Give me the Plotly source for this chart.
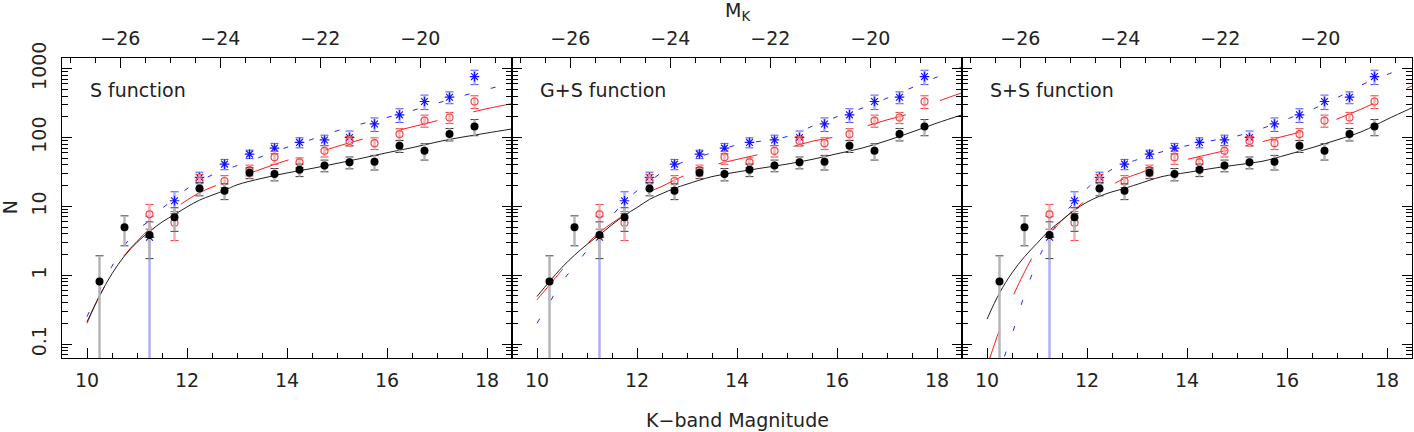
import plotly.graph_objects as go

# observed counts per 0.5 mag bin (same data in all three panels)
MAG_BINS = [10.25, 10.75, 11.25, 11.75, 12.25, 12.75, 13.25, 13.75,
            14.25, 14.75, 15.25, 15.75, 16.25, 16.75, 17.25, 17.75]
N_ALL = [0.81, 4.97, 3.84, 6.93, 18.2, 16.8, 30.7, 29.4,
         34.0, 39.3, 43.5, 44.3, 75.5, 64.0, 112, 144]
N_ALL_ERR = [1.1, 2.3, 2.1, 2.6, 4.0, 4.3, 5.5, 6.0,
             7.0, 7.6, 8.5, 10.6, 15, 17, 23, 38]

MAG_BINS_B = [11.25, 11.75, 12.25, 12.75, 13.25, 13.75, 14.25,
              14.75, 15.25, 15.75, 16.25, 16.75, 17.25, 17.75]
N_RED = [7.66, 5.78, 23.5, 23.3, 33.6, 51.8, 43.5, 64, 89, 82.6, 112, 176, 195, 333]
N_RED_ERR = [3.0, 2.6, 5.5, 4.6, 6.0, 11, 7, 12, 14, 16, 22, 35, 36, 70]
N_BLUE = [3.56, 12.05, 26.3, 41, 57.3, 70, 84.7, 92, 100, 157, 213, 333, 384, 766]
N_BLUE_ERR = [3.6, 4.2, 5, 7, 8, 12, 14, 16, 24, 35, 48, 79, 75, 180]

# model curves
MODEL_K = [10.0, 10.25, 10.5, 10.75, 11.0, 11.25, 11.5, 11.75, 12.0, 12.25, 12.5, 12.75,
           13.0, 13.5, 14.0, 14.5, 15.0, 15.5, 16.0, 16.5, 17.0, 17.5, 18.0, 18.5]

S_BLACK = [0.21, 0.5, 1.05, 1.9, 3.0, 4.3, 5.9, 7.6, 9.8, 12.3, 14.5, 17.0,
           20.5, 25.5, 30.5, 35.5, 42, 50, 60, 71, 86, 101, 116, 133]
S_RED = [0.2, 0.5, 1.05, 1.95, 3.1, 4.7, 6.6, 9.2, 12.3, 15.8, 19.0, 22.5,
         26, 35, 46.5, 57, 74, 94, 116, 142, 175, 215, 262, 310]
S_BLUE = [0.25, 0.6, 1.35, 2.7, 4.5, 6.2, 9.3, 12.8, 18.0, 23, 28.5, 34,
          39, 53, 72, 94, 125, 158, 195, 245, 314, 400, 500, 615]

GS_BLACK = [0.49, 0.81, 1.3, 1.95, 2.8, 3.85, 5.4, 7.4, 9.6, 12.6, 15.3, 18.2,
            21, 27, 31.5, 36, 41, 48, 58, 70, 90, 120, 162, 213]
GS_RED = [0.44, 0.72, 1.19, 1.85, 2.85, 4.2, 5.7, 7.6, 10.5, 16.0, 19.5, 24,
          29, 39, 48, 58, 70, 88, 104, 140, 180, 228, 330, 445]
GS_BLUE = [0.2, 0.4, 0.8, 1.35, 2.3, 4.2, 7.3, 11.5, 16.8, 23, 31, 39,
           46, 60, 78, 89, 103, 145, 200, 266, 372, 530, 755, 1050]

SS_BLACK = [0.23, 0.55, 1.08, 1.85, 2.9, 4.5, 6.3, 8.8, 11.5, 14, 16.2, 18.2,
            20.8, 27, 31, 35.5, 40, 45, 56, 71, 92, 122, 183, 270]
SS_RED = [0.047, 0.16, 0.46, 1.11, 2.35, 3.84, 6.3, 8.95, 12.6, 16.9, 20.7, 25.3,
          29.4, 39.7, 48, 58.2, 70.5, 86.7, 107, 134, 185, 261, 385, 560]
SS_BLUE = [0.012, 0.041, 0.138, 0.52, 1.54, 3.7, 7.0, 11.6, 18.2, 26, 34.5, 41,
           47.5, 62, 76, 90, 105, 135, 185, 255, 377, 583, 818, 1120]

PANEL_LABELS = ["S function", "G+S function", "S+S function"]
PANEL_MODELS = [(S_BLACK, S_RED, S_BLUE), (GS_BLACK, GS_RED, GS_BLUE), (SS_BLACK, SS_RED, SS_BLUE)]

K_TICKS = [10, 12, 14, 16, 18]
MK_TICKS = [-26, -24, -22, -20]
N_TICKS = [0.1, 1, 10, 100, 1000]
N_TICK_TEXT = ["0.1", "1", "10", "100", "1000"]
MK_OFFSET = 36.668

FONT = "DejaVu Sans"
TEXT = "#222222"
FS = 19


def add_points(fig, xa, ya, k, n, err, marker, bar_color, cap_color):
    # caps (thin, dark) first, then a lighter thick bar on top of the stem
    fig.add_trace(go.Scatter(
        x=k, y=n, mode="markers", xaxis=xa, yaxis=ya,
        marker=dict(size=1, opacity=0),
        error_y=dict(type="data", array=err, color=cap_color, thickness=1, width=4),
        hoverinfo="skip", showlegend=False,
    ))
    fig.add_trace(go.Scatter(
        x=k, y=n, mode="markers", xaxis=xa, yaxis=ya,
        marker=dict(size=1, opacity=0),
        error_y=dict(type="data", array=err, color=bar_color, thickness=2.5, width=0),
        hoverinfo="skip", showlegend=False,
    ))
    fig.add_trace(go.Scatter(
        x=k, y=n, mode="markers", xaxis=xa, yaxis=ya,
        marker=marker, showlegend=False,
    ))


fig = go.Figure()

for i, (black, red, blue) in enumerate(PANEL_MODELS):
    sfx = "" if i == 0 else str(i + 1)
    xa, ya = "x" + sfx, "y" + sfx

    # model curves
    fig.add_trace(go.Scatter(
        x=MODEL_K, y=blue, mode="lines", xaxis=xa, yaxis=ya, line_shape="spline",
        line=dict(color="#2424ff", width=1, dash="5px,22px"), showlegend=False,
    ))
    fig.add_trace(go.Scatter(
        x=MODEL_K, y=red, mode="lines", xaxis=xa, yaxis=ya, line_shape="spline",
        line=dict(color="#ff1a1a", width=1, dash="40px,37px"), showlegend=False,
    ))
    fig.add_trace(go.Scatter(
        x=MODEL_K, y=black, mode="lines", xaxis=xa, yaxis=ya, line_shape="spline",
        line=dict(color="#202020", width=1), showlegend=False,
    ))

    add_points(fig, xa, ya, MAG_BINS_B, N_BLUE, N_BLUE_ERR,
               dict(symbol="asterisk-open", size=8, color="#1414ff",
                    line=dict(color="#1414ff", width=1.2)),
               "#aeaeff", "#4a4aff")
    add_points(fig, xa, ya, MAG_BINS_B, N_RED, N_RED_ERR,
               dict(symbol="circle-open", size=7, color="#f24848",
                    line=dict(color="#f24848", width=1.2)),
               "#f8b0b0", "#ee3c3c")
    add_points(fig, xa, ya, MAG_BINS, N_ALL, N_ALL_ERR,
               dict(symbol="circle", size=8, color="black"),
               "#b6b6b6", "#3a3a3a")

    # hidden trace so the top (absolute magnitude) axis gets drawn
    fig.add_trace(go.Scatter(
        x=MK_TICKS, y=N_TICKS[1:], mode="markers", xaxis="x" + str(i + 4), yaxis=ya,
        marker=dict(opacity=0), hoverinfo="skip", showlegend=False,
    ))

tick_font = dict(family=FONT, size=FS, color=TEXT)
layout = dict(
    width=1414, height=432,
    margin=dict(l=62, r=2, t=58, b=74),
    paper_bgcolor="white", plot_bgcolor="white",
    font=dict(family=FONT, size=FS, color=TEXT),
    showlegend=False,
)

minor_n = [m * 10 ** e for e in range(-2, 4) for m in range(2, 10)]

for i in range(3):
    sfx = "" if i == 0 else str(i + 1)
    layout["xaxis" + sfx] = dict(
        domain=[i / 3, (i + 1) / 3], range=[9.5, 18.5], anchor="y" + sfx,
        tickmode="array", tickvals=K_TICKS, ticks="inside", ticklen=10, tickcolor="black",
        minor=dict(ticks="inside", ticklen=5, dtick=0.5, tick0=0, tickcolor="black", showgrid=False),
        showline=True, linecolor="black", linewidth=1, showgrid=False, zeroline=False,
        tickfont=tick_font, ticklabelstandoff=5, automargin=False,
    )
    layout["xaxis" + str(i + 4)] = dict(
        overlaying="x" + sfx, side="top", anchor="y" + sfx,
        range=[9.5 - MK_OFFSET, 18.5 - MK_OFFSET],
        tickmode="array", tickvals=MK_TICKS, ticks="inside", ticklen=10, tickcolor="black",
        minor=dict(ticks="inside", ticklen=5, dtick=0.5, tick0=0, tickcolor="black", showgrid=False),
        showline=True, linecolor="black", linewidth=1, showgrid=False, zeroline=False,
        tickfont=tick_font, ticklabelstandoff=4, automargin=False,
    )
    layout["yaxis" + sfx] = dict(
        type="log", range=[-1.203, 3.154], anchor="x" + sfx, domain=[0, 1],
        tickmode="array", tickvals=N_TICKS, ticktext=N_TICK_TEXT, tickangle=-90,
        ticks="inside", ticklen=10, tickcolor="black",
        minor=dict(ticks="inside", ticklen=6, tickmode="array", tickvals=minor_n,
                   tickcolor="black", showgrid=False),
        showline=True, linecolor="black", linewidth=1, mirror="ticks",
        showgrid=False, zeroline=False, showticklabels=(i == 0),
        tickfont=tick_font, ticklabelstandoff=7, automargin=False,
    )

annotations = []
for i, label in enumerate(PANEL_LABELS):
    sfx = "" if i == 0 else str(i + 1)
    annotations.append(dict(
        text=label, xref="x" + sfx + " domain", yref="y" + sfx + " domain",
        x=0.058, y=0.893, xanchor="left", yanchor="middle", showarrow=False,
        font=dict(family=FONT, size=FS, color=TEXT),
    ))
annotations += [
    dict(text="K\u2212band Magnitude", xref="paper", yref="paper", x=0.5, y=-0.207,
         xanchor="center", yanchor="middle", showarrow=False),
    dict(text="N", xref="paper", yref="paper", x=-0.0385, y=0.503, textangle=-90,
         xanchor="center", yanchor="middle", showarrow=False),
    dict(text="M<sub>K</sub>", xref="paper", yref="paper", x=0.5007, y=1.155,
         xanchor="center", yanchor="middle", showarrow=False),
]
layout["annotations"] = annotations

fig.update_layout(**layout)
# drop the default page margin so the figure sits at the window's corner
fig.write_html("out.html", config={"displayModeBar": False},
               post_script="document.body.style.margin='0';")
